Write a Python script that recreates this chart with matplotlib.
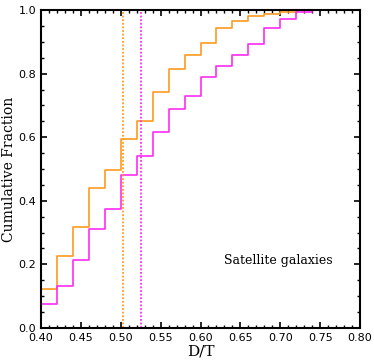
import numpy as np
import matplotlib
matplotlib.use("Agg")
import matplotlib.pyplot as plt
from matplotlib.ticker import MultipleLocator

# bin edges of D/T and cumulative fractions
edges = [0.40, 0.42, 0.44, 0.46, 0.48, 0.50, 0.52, 0.54, 0.56, 0.58,
         0.60, 0.62, 0.64, 0.66, 0.68, 0.70, 0.72, 0.74, 0.76]
cum_orange = [0.122, 0.225, 0.319, 0.440, 0.496, 0.595, 0.650, 0.742, 0.815,
              0.858, 0.895, 0.943, 0.964, 0.981, 0.987, 0.994, 1.0, 1.0, 1.0]
cum_magenta = [0.076, 0.133, 0.213, 0.310, 0.375, 0.481, 0.540, 0.616, 0.689,
               0.730, 0.788, 0.823, 0.858, 0.894, 0.943, 0.971, 0.994, 1.0, 1.0]
median_orange = 0.5024
median_magenta = 0.5254

c_orange = "#ff9a1f"
c_magenta = "#ff2cf2"

fig = plt.figure(figsize=(3.74, 3.6), dpi=100)
ax = fig.add_axes([0.1096, 0.0889, 0.8530, 0.8833])

ax.step(edges, cum_orange, where="post", color=c_orange, lw=1.2)
ax.step(edges, cum_magenta, where="post", color=c_magenta, lw=1.2)
ax.axvline(median_orange, color=c_orange, ls=(0, (1, 1)), lw=1.3)
ax.axvline(median_magenta, color=c_magenta, ls=(0, (1, 1)), lw=1.3)

ax.set_xlim(0.40, 0.80)
ax.set_ylim(0.0, 1.0)
ax.xaxis.set_major_locator(MultipleLocator(0.05))
ax.xaxis.set_minor_locator(MultipleLocator(0.01))
ax.yaxis.set_major_locator(MultipleLocator(0.2))
ax.yaxis.set_minor_locator(MultipleLocator(0.05))
ax.xaxis.set_major_formatter(plt.FuncFormatter(lambda v, p: "%.2f" % v))
ax.yaxis.set_major_formatter(plt.FuncFormatter(lambda v, p: "%.1f" % v))
ax.tick_params(which="both", direction="in", top=True, right=True, labelsize=8)
ax.tick_params(which="major", length=4.5, width=1.2)
ax.tick_params(which="minor", length=2.2, width=1.0)
for s in ax.spines.values():
    s.set_linewidth(1.5)

ax.set_xlabel("D/T", family="DejaVu Serif", fontsize=11, labelpad=1)
ax.set_ylabel("Cumulative Fraction", family="DejaVu Serif", fontsize=10)
ax.yaxis.set_label_coords(-0.078, 0.5)
ax.text(0.915, 0.212, "Satellite galaxies", transform=ax.transAxes, ha="right",
        va="center", family="DejaVu Serif", fontsize=9)

fig.savefig("out.png", dpi=100)
